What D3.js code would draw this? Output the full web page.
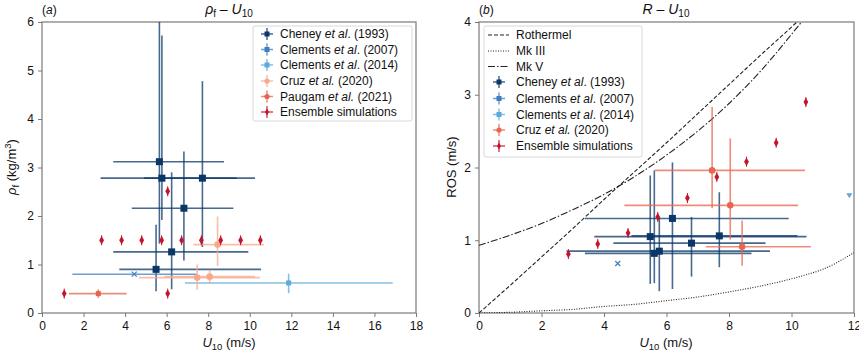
<!DOCTYPE html>
<html>
<head>
<meta charset="utf-8">
<script src="https://cdn.jsdelivr.net/npm/d3@7"></script>
<style>
body { margin: 0; background: #fff; }
svg { font-family: "Liberation Sans", Arial, sans-serif; }
</style>
</head>
<body>
<svg width="859" height="356"></svg>
<script>
// ---- panel (a): rho_f vs U10 ----
var xTicksA = [0, 2, 4, 6, 8, 10, 12, 14, 16, 18];
var yTicksA = [0, 1, 2, 3, 4, 5, 6];

var cheneyU_a = [5.65, 5.77, 7.72, 6.83, 6.24, 5.49];
var cheneyULo_a = [3.43, 2.82, 4.91, 4.32, 3.43, 3.72];
var cheneyUHi_a = [8.76, 9.37, 10.25, 9.21, 9.93, 10.54];
var cheneyRho = [3.12, 2.78, 2.78, 2.16, 1.26, 0.90];
var cheneyRhoLo = [1.43, 1.92, 1.36, 1.08, 0.49, 0.45];
var cheneyRhoHi = [6.5, 5.72, 4.78, 3.33, 2.90, 1.82];

var clem07U_a = [4.44], clem07ULo_a = [1.46], clem07UHi_a = [7.44];
var clem07Rho = [0.80];

var clem14U_a = [11.87], clem14ULo_a = [6.88], clem14UHi_a = [16.88];
var clem14Rho = [0.62], clem14RhoLo = [0.41], clem14RhoHi = [0.81];

var cruzU_a = [8.45, 7.47, 8.07];
var cruzULo_a = [7.28, 4.67, 5.90];
var cruzUHi_a = [10.68, 10.49, 10.25];
var cruzRho = [1.41, 0.73, 0.75];
var cruzRhoLo = [0.97, 0.48, 0.60];
var cruzRhoHi = [1.99, 1.00, 0.89];

var paugamU = [2.71], paugamULo = [1.30], paugamUHi = [4.07];
var paugamRho = [0.40], paugamRhoLo = [0.31], paugamRhoHi = [0.49];

var ensU_a = [2.87, 3.83, 4.80, 5.76, 6.72, 7.67, 8.60, 9.56, 10.51, 6.05, 1.07, 6.05];
var ensRho = [1.5, 1.5, 1.5, 1.5, 1.5, 1.5, 1.5, 1.5, 1.5, 2.51, 0.40, 0.40];

// ---- panel (b): ROS vs U10 ----
var xTicksB = [0, 2, 4, 6, 8, 10, 12];
var yTicksB = [0, 1, 2, 3, 4];

var cheneyU_b = [5.48, 5.61, 5.77, 6.19, 6.80, 7.69];
var cheneyULo_b = [3.69, 3.39, 2.80, 3.39, 4.30, 4.88];
var cheneyUHi_b = [10.48, 8.72, 9.31, 9.91, 9.17, 10.19];
var cheneyRos = [1.05, 0.82, 0.85, 1.30, 0.96, 1.06];
var cheneyRosLo = [0.40, 0.41, 0.30, 0.33, 0.50, 0.63];
var cheneyRosHi = [1.89, 1.96, 1.32, 2.07, 1.32, 1.66];

var clem07U_b = [4.44], clem07Ros = [0.68];
var clem14U_b = [11.85], clem14Ros = [1.61];

var cruzU_b = [8.42, 7.46, 8.04];
var cruzULo_b = [7.26, 5.63, 4.65];
var cruzUHi_b = [10.62, 10.43, 10.21];
var cruzRos = [0.91, 1.96, 1.48];
var cruzRosLo = [0.65, 1.44, 1.01];
var cruzRosHi = [1.27, 2.83, 2.40];

var ensU_b = [2.86, 3.80, 4.77, 5.72, 6.67, 7.61, 8.56, 9.51, 10.46];
var ensRos = [0.81, 0.95, 1.10, 1.32, 1.58, 1.87, 2.08, 2.34, 2.90];

// model curves
var curveU = [0, 1, 2, 3, 4, 5, 6, 7, 8, 9, 10, 10.5, 11, 12];
var rothermel = [0, 0.38, 0.77, 1.16, 1.56, 1.95, 2.34, 2.74, 3.14, 3.54, 3.93, 4.13, 4.33, 4.73];
var mk5 = [0.93, 1.07, 1.23, 1.42, 1.63, 1.88, 2.17, 2.50, 2.88, 3.32, 3.83, 4.10, 4.40, 5.1];
var mk3 = [0, 0.01, 0.03, 0.05, 0.09, 0.12, 0.17, 0.22, 0.29, 0.37, 0.47, 0.53, 0.60, 0.83];

var C_CHENEY = "#0b3768", C_CLEM07 = "#3f7dbd", C_CLEM14 = "#5ea8da",
    C_CRUZ_A = "#f8a98b", C_PAUGAM = "#e4654d", C_ENS = "#c4152e", C_CRUZ_B = "#e8664f";
var AXIS_C = "#7a7a7a";

var svg = d3.select("svg");

function pts(u, v, ulo, uhi, vlo, vhi) {
  return u.map(function(d, i) {
    return { u: d, v: v[i],
      ulo: ulo ? ulo[i] : null, uhi: uhi ? uhi[i] : null,
      vlo: vlo ? vlo[i] : null, vhi: vhi ? vhi[i] : null };
  });
}

function drawMarker(g, type, color) {
  if (type == "square") {
    g.append("rect").attr("x", -3.5).attr("y", -3.5).attr("width", 7).attr("height", 7).attr("fill", color);
  } else if (type == "smallsquare") {
    g.append("rect").attr("x", -2.5).attr("y", -2.5).attr("width", 5).attr("height", 5).attr("fill", color);
  } else if (type == "x") {
    g.append("path").attr("d", "M-2.5,-2.5L2.5,2.5M-2.5,2.5L2.5,-2.5").attr("stroke", color).attr("stroke-width", 1.2);
  } else if (type == "circle") {
    g.append("circle").attr("r", 3.3).attr("fill", color);
  } else if (type == "tri") {
    g.append("path").attr("d", "M-3,-2.5L3,-2.5L0,2.5Z").attr("fill", color);
  } else if (type == "diamond") {
    g.append("path").attr("d", "M0,-4.2L2.4,0L0,4.2L-2.4,0Z").attr("fill", color);
  }
}

function drawSeries(g, x, y, data, color, marker) {
  var s = g.append("g");
  data.forEach(function(d) {
    if (d.ulo != null) {
      s.append("line").attr("x1", x(d.ulo)).attr("x2", x(d.uhi)).attr("y1", y(d.v)).attr("y2", y(d.v))
        .attr("stroke", color).attr("stroke-width", 1.6).attr("stroke-opacity", 0.75);
    }
    if (d.vlo != null) {
      s.append("line").attr("x1", x(d.u)).attr("x2", x(d.u)).attr("y1", y(d.vlo)).attr("y2", y(d.vhi))
        .attr("stroke", color).attr("stroke-width", 1.6).attr("stroke-opacity", 0.75);
    }
  });
  data.forEach(function(d) {
    var m = s.append("g").attr("transform", "translate(" + x(d.u) + "," + y(d.v) + ")");
    if (marker == "diamond") {
      m.append("line").attr("y1", -5).attr("y2", 5).attr("stroke", color).attr("stroke-width", 1);
    }
    drawMarker(m, marker, color);
  });
}

function frame(id, x, y, xticks, yticks) {
  var r = x.range(), t = y.range();
  svg.append("clipPath").attr("id", id).append("rect")
    .attr("x", r[0]).attr("y", t[1]).attr("width", r[1] - r[0]).attr("height", t[0] - t[1]);

  var gx = svg.append("g").attr("transform", "translate(0," + t[0] + ")")
    .call(d3.axisBottom(x).tickValues(xticks).tickSize(4).tickPadding(4).tickFormat(d3.format("d")));
  var gy = svg.append("g").attr("transform", "translate(" + r[0] + ",0)")
    .call(d3.axisLeft(y).tickValues(yticks).tickSize(4).tickPadding(4).tickFormat(d3.format("d")));
  [gx, gy].forEach(function(a) {
    a.select(".domain").remove();
    a.selectAll(".tick line").attr("stroke", AXIS_C);
    a.selectAll(".tick text").attr("font-size", 12).attr("fill", "#111")
      .attr("font-family", "Liberation Sans, Arial, sans-serif");
  });
  svg.append("rect").attr("x", r[0]).attr("y", t[1]).attr("width", r[1] - r[0]).attr("height", t[0] - t[1])
    .attr("fill", "none").attr("stroke", AXIS_C).attr("stroke-width", 1.2);
  return svg.append("g").attr("clip-path", "url(#" + id + ")");
}

function legendHandle(g, cx, cy, color, marker) {
  g.append("line").attr("x1", cx - 6).attr("x2", cx + 6).attr("y1", cy).attr("y2", cy)
    .attr("stroke", color).attr("stroke-width", 1.5).attr("stroke-opacity", 0.75);
  g.append("line").attr("x1", cx).attr("x2", cx).attr("y1", cy - 6).attr("y2", cy + 6)
    .attr("stroke", color).attr("stroke-width", 1.5).attr("stroke-opacity", 0.75);
  var m = g.append("g").attr("transform", "translate(" + cx + "," + cy + ")");
  if (marker == "square") marker = "smallsquare";
  if (marker == "circle") { m.append("circle").attr("r", 2.6).attr("fill", color); return; }
  if (marker == "diamond") { m.append("path").attr("d", "M0,-3.5L2,0L0,3.5L-2,0Z").attr("fill", color); return; }
  if (marker == "tri") marker = "smallsquare";
  drawMarker(m, marker, color);
}

function legendText(g, x, y, parts) {
  var t = g.append("text").attr("x", x).attr("y", y + 4.3).attr("font-size", 12).attr("fill", "#111");
  parts.forEach(function(p) {
    t.append("tspan").attr("font-style", p[1] ? "italic" : "normal").text(p[0]);
  });
}

function etal(name, year) {
  return [[name + " "], ["et al", true], [". (" + year + ")"]];
}

// ---------- panel (a) ----------
var xA = d3.scaleLinear().domain([0, 18]).range([42, 416]);
var yA = d3.scaleLinear().domain([0, 6]).range([313, 22]);
var plotA = frame("clipA", xA, yA, xTicksA, yTicksA);

drawSeries(plotA, xA, yA, pts(cheneyU_a, cheneyRho, cheneyULo_a, cheneyUHi_a, cheneyRhoLo, cheneyRhoHi), C_CHENEY, "square");
drawSeries(plotA, xA, yA, pts(clem07U_a, clem07Rho, clem07ULo_a, clem07UHi_a), C_CLEM07, "x");
drawSeries(plotA, xA, yA, pts(clem14U_a, clem14Rho, clem14ULo_a, clem14UHi_a, clem14RhoLo, clem14RhoHi), C_CLEM14, "smallsquare");
drawSeries(plotA, xA, yA, pts(cruzU_a, cruzRho, cruzULo_a, cruzUHi_a, cruzRhoLo, cruzRhoHi), C_CRUZ_A, "circle");
drawSeries(plotA, xA, yA, pts(paugamU, paugamRho, paugamULo, paugamUHi, paugamRhoLo, paugamRhoHi), C_PAUGAM, "smallsquare");
drawSeries(plotA, xA, yA, pts(ensU_a, ensRho), C_ENS, "diamond");

var legA = svg.append("g");
legA.append("rect").attr("x", 253).attr("y", 26).attr("width", 159).attr("height", 95).attr("rx", 2)
  .attr("fill", "#fff").attr("fill-opacity", 0.85).attr("stroke", "#d8d8d8");
var legAItems = [
  [etal("Cheney", 1993), C_CHENEY, "square"],
  [etal("Clements", 2007), C_CLEM07, "square"],
  [etal("Clements", 2014), C_CLEM14, "square"],
  [[["Cruz "], ["et al.", true], [" (2020)"]], C_CRUZ_A, "circle"],
  [[["Paugam "], ["et al.", true], [" (2021)"]], C_PAUGAM, "circle"],
  [[["Ensemble simulations"]], C_ENS, "diamond"]
];
var legARows = [34, 49.5, 65, 81, 96.5, 112];
legAItems.forEach(function(it, i) {
  legendHandle(legA, 267, legARows[i], it[1], it[2]);
  legendText(legA, 280, legARows[i], it[0]);
});

// titles (a)
var tA = svg.append("text").attr("x", 42).attr("y", 14).attr("font-size", 12).attr("fill", "#111");
tA.append("tspan").text("(");
tA.append("tspan").attr("font-style", "italic").text("a");
tA.append("tspan").text(")");

var ttA = svg.append("text").attr("x", 229).attr("y", 14).attr("font-size", 14).attr("text-anchor", "middle").attr("fill", "#111");
ttA.append("tspan").attr("font-style", "italic").text("ρ");
ttA.append("tspan").attr("font-size", 10).attr("dy", 3).text("f");
ttA.append("tspan").attr("dy", -3).text(" – ");
ttA.append("tspan").attr("font-style", "italic").text("U");
ttA.append("tspan").attr("font-size", 10).attr("dy", 3).text("10");

function xLabel(cx) {
  var t = svg.append("text").attr("x", cx).attr("y", 347).attr("font-size", 13).attr("text-anchor", "middle").attr("fill", "#111");
  t.append("tspan").attr("font-style", "italic").text("U");
  t.append("tspan").attr("font-size", 9.5).attr("dy", 3).text("10");
  t.append("tspan").attr("dy", -3).text(" (m/s)");
}
xLabel(229);

var ylA = svg.append("text").attr("transform", "translate(16,167) rotate(-90)")
  .attr("font-size", 13).attr("text-anchor", "middle").attr("fill", "#111");
ylA.append("tspan").attr("font-style", "italic").text("ρ");
ylA.append("tspan").attr("font-size", 9.5).attr("dy", 3).text("f");
ylA.append("tspan").attr("dy", -3).text(" (kg/m");
ylA.append("tspan").attr("font-size", 9.5).attr("dy", -5).text("3");
ylA.append("tspan").attr("dy", 5).text(")");

// ---------- panel (b) ----------
var xB = d3.scaleLinear().domain([0, 12]).range([479, 854]);
var yB = d3.scaleLinear().domain([0, 4]).range([313, 22]);
var plotB = frame("clipB", xB, yB, xTicksB, yTicksB);

var curveLine = d3.line().curve(d3.curveMonotoneX)
  .x(function(d) { return xB(d[0]); }).y(function(d) { return yB(d[1]); });
function curve(vals, dash) {
  plotB.append("path").datum(curveU.map(function(u, i) { return [u, vals[i]]; }))
    .attr("d", curveLine).attr("fill", "none").attr("stroke", "#222").attr("stroke-width", 1.1)
    .attr("stroke-dasharray", dash);
}
curve(rothermel, "4,2");
curve(mk3, "1,1.5");
curve(mk5, "7,2,1.5,2");

drawSeries(plotB, xB, yB, pts(cheneyU_b, cheneyRos, cheneyULo_b, cheneyUHi_b, cheneyRosLo, cheneyRosHi), C_CHENEY, "square");
drawSeries(plotB, xB, yB, pts(clem07U_b, clem07Ros), C_CLEM07, "x");
drawSeries(plotB, xB, yB, pts(clem14U_b, clem14Ros), C_CLEM14, "tri");
drawSeries(plotB, xB, yB, pts(cruzU_b, cruzRos, cruzULo_b, cruzUHi_b, cruzRosLo, cruzRosHi), C_CRUZ_B, "circle");
drawSeries(plotB, xB, yB, pts(ensU_b, ensRos), C_ENS, "diamond");

var legB = svg.append("g");
legB.append("rect").attr("x", 484).attr("y", 26).attr("width", 158).attr("height", 131).attr("rx", 2)
  .attr("fill", "#fff").attr("fill-opacity", 0.85).attr("stroke", "#d8d8d8");
var legBRows = [35, 51, 66.5, 82, 98.5, 114.5, 130, 146];
var legBLines = [["Rothermel", "4,2"], ["Mk III", "1,1.5"], ["Mk V", "7,2,1.5,2"]];
legBLines.forEach(function(it, i) {
  legB.append("line").attr("x1", 488).attr("x2", 509).attr("y1", legBRows[i]).attr("y2", legBRows[i])
    .attr("stroke", "#222").attr("stroke-width", 1.1).attr("stroke-dasharray", it[1]);
  legendText(legB, 516, legBRows[i], [[it[0]]]);
});
var legBItems = [
  [etal("Cheney", 1993), C_CHENEY, "square"],
  [etal("Clements", 2007), C_CLEM07, "square"],
  [etal("Clements", 2014), C_CLEM14, "square"],
  [[["Cruz "], ["et al.", true], [" (2020)"]], C_CRUZ_B, "circle"],
  [[["Ensemble simulations"]], C_ENS, "diamond"]
];
legBItems.forEach(function(it, i) {
  legendHandle(legB, 499, legBRows[i + 3], it[1], it[2]);
  legendText(legB, 516, legBRows[i + 3], it[0]);
});

var tB = svg.append("text").attr("x", 479).attr("y", 14).attr("font-size", 12).attr("fill", "#111");
tB.append("tspan").text("(");
tB.append("tspan").attr("font-style", "italic").text("b");
tB.append("tspan").text(")");

var ttB = svg.append("text").attr("x", 666).attr("y", 14).attr("font-size", 14).attr("text-anchor", "middle").attr("fill", "#111");
ttB.append("tspan").attr("font-style", "italic").text("R");
ttB.append("tspan").text(" – ");
ttB.append("tspan").attr("font-style", "italic").text("U");
ttB.append("tspan").attr("font-size", 10).attr("dy", 3).text("10");

xLabel(666);

svg.append("text").attr("transform", "translate(456,167) rotate(-90)")
  .attr("font-size", 13).attr("text-anchor", "middle").attr("fill", "#111").text("ROS (m/s)");
</script>
</body>
</html>
